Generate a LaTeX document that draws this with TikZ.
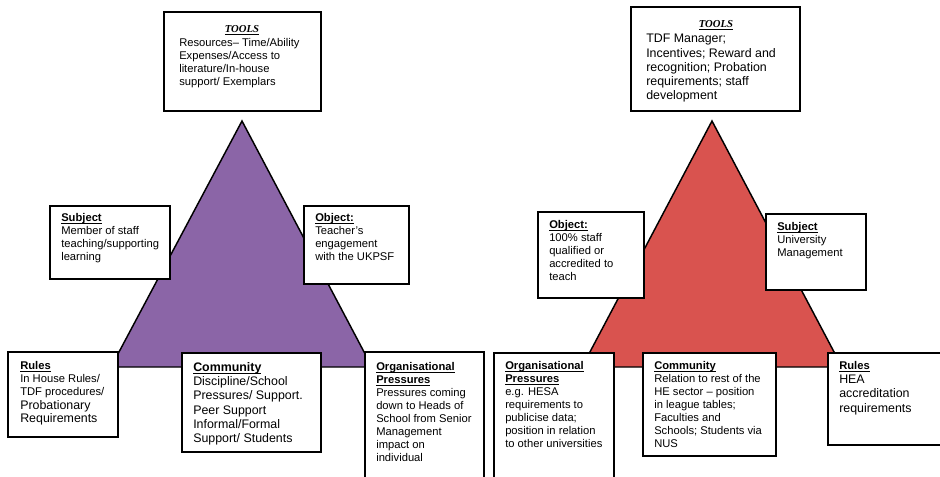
\documentclass[tikz,border=0pt]{standalone}
\usepackage{fontspec}
\setmainfont{Liberation Sans}
\newfontfamily\toolsfont{Liberation Serif}
\usetikzlibrary{fit}

\definecolor{purpletri}{HTML}{8B65A7}
\definecolor{redtri}{HTML}{D9534F}

\newsavebox\headbox
\newcommand{\smalltxt}{\fontsize{8.4}{9.75}\selectfont}
\newcommand{\bigtxt}{\fontsize{9.3}{10.7}\selectfont}
\newcommand{\uln}[1]{\sbox\headbox{#1}\leavevmode
  \rlap{\vrule width\wd\headbox height -1.1pt depth 1.8pt}\usebox\headbox}
\newcommand{\boxhead}[1]{\uln{\textbf{#1}}}

\begin{document}
\begin{tikzpicture}[x=0.75pt,y=-0.75pt,
    pane/.style={draw,fill=white,line width=1.1pt,inner sep=0pt},
    note/.style={anchor=north west,inner sep=0pt,align=left,font=\smalltxt},
    toolshead/.style={anchor=north,inner sep=0pt,
      font=\fontsize{8}{9}\selectfont\toolsfont\bfseries\itshape},
    tri/.style={draw,line width=1.1pt,line join=miter}]
  \useasboundingbox (0,0) rectangle (940,476);
  \clip (0,0) rectangle (940,476);

  % left triangle
  \filldraw[tri,fill=purpletri] (242,121) -- (111,367) -- (372,367) -- cycle;

  \node[pane,fit={(164,12) (321,111)}] (toolsL) {};
  \node[toolshead] (toolsLhead) at (242,25) {\uln{TOOLS}};
  \node[note] (toolsLtxt) at (179,38)
    {Resources-- Time/Ability\\Expenses/Access to\\literature/In-house\\support/ Exemplars};

  \node[pane,fit={(50,206) (170,279)}] (subjL) {};
  \node[note] (subjLtxt) at (61,213.5)
    {\boxhead{Subject}\\Member of staff\\teaching/supporting\\learning};

  \node[pane,fit={(304,206) (409,284)}] (objL) {};
  \node[note] (objLtxt) at (315,213.5)
    {\boxhead{Object:}\\Teacher's\\engagement\\with the UKPSF};

  \node[pane,fit={(8,352) (118,437)}] (rulesL) {};
  \node[note] (rulesLtxt) at (20,361)
    {\boxhead{Rules}\\In House Rules/\\TDF procedures/\\[0.8pt]\bigtxt Probationary\\\bigtxt Requirements};

  \node[pane,fit={(182,353) (321,452)}] (commL) {};
  \node[note,font=\bigtxt] (commLtxt) at (193,362)
    {\boxhead{Community}\\Discipline/School\\Pressures/ Support.\\Peer Support\\Informal/Formal\\Support/ Students};

  \node[pane,fit={(365,352) (484,495)}] (orgL) {};
  \node[note] (orgLtxt) at (376,362)
    {\boxhead{Organisational}\\\boxhead{Pressures}\\Pressures coming\\down to Heads of\\School from Senior\\Management\\impact on\\individual};

  % right triangle
  \filldraw[tri,fill=redtri] (712,121) -- (582,367) -- (842,367) -- cycle;

  \node[pane,fit={(631,7) (800,111)}] (toolsR) {};
  \node[toolshead] (toolsRhead) at (716,20.5) {\uln{TOOLS}};
  \node[note,font=\bigtxt] (toolsRtxt) at (646,34)
    {TDF Manager;\\Incentives; Reward and\\recognition; Probation\\requirements; staff\\development};

  \node[pane,fit={(538,212) (644,298)}] (objR) {};
  \node[note] (objRtxt) at (549,220)
    {\boxhead{Object:}\\100\% staff\\qualified or\\accredited to\\teach};

  \node[pane,fit={(766,214) (866,290)}] (subjR) {};
  \node[note] (subjRtxt) at (777,222)
    {\boxhead{Subject}\\University\\Management};

  \node[pane,fit={(494,353) (614,495)}] (orgR) {};
  \node[note] (orgRtxt) at (505,361)
    {\boxhead{Organisational}\\\boxhead{Pressures}\\e.g. HESA\\requirements to\\publicise data;\\position in relation\\to other universities};

  \node[pane,fit={(643,353) (776,456)}] (commR) {};
  \node[note] (commRtxt) at (654,361)
    {\boxhead{Community}\\Relation to rest of the\\HE sector -- position\\in league tables;\\Faculties and\\Schools; Students via\\NUS};

  \node[pane,fit={(828,353) (955,445)}] (rulesR) {};
  \node[note,font=\bigtxt] (rulesRtxt) at (839,361)
    {\smalltxt\boxhead{Rules}\\HEA\\accreditation\\requirements};
\end{tikzpicture}
\end{document}
